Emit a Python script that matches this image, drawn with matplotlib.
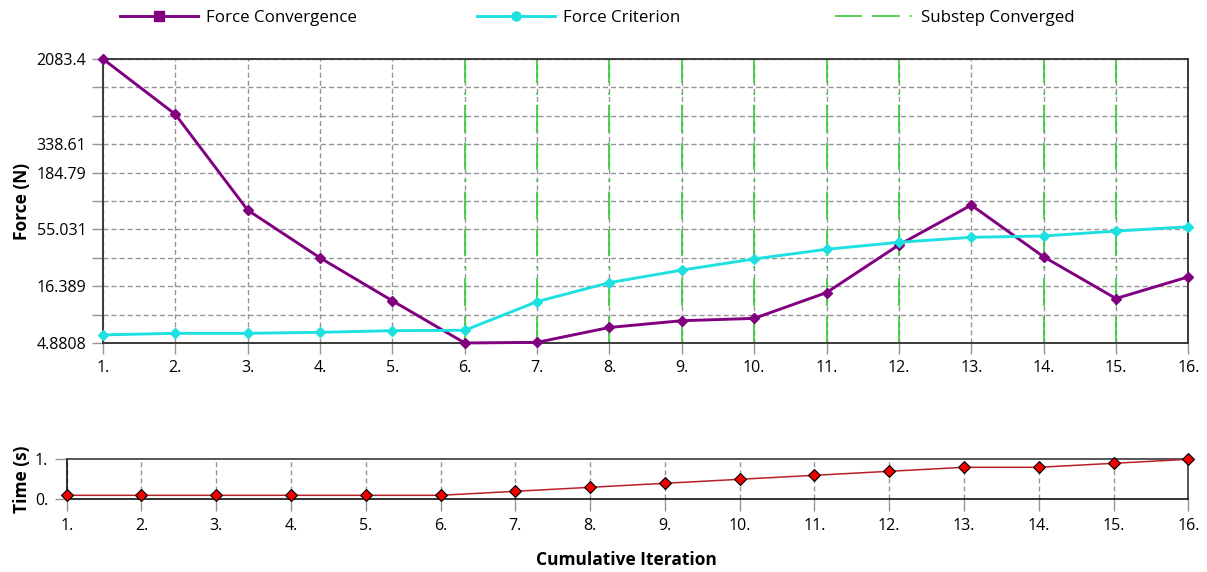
import matplotlib
matplotlib.use("Agg")
import matplotlib.pyplot as plt
from matplotlib.lines import Line2D
from matplotlib.ticker import FixedLocator, FixedFormatter
import numpy as np

# ---- data -------------------------------------------------------------
iterations = [1, 2, 3, 4, 5, 6, 7, 8, 9, 10, 11, 12, 13, 14, 15, 16]
force_convergence = [2083.4, 640.0, 83.0, 30.0, 12.0, 4.8808, 4.95, 6.8,
                     7.85, 8.25, 14.3, 39.5, 92.5, 30.7, 12.6, 20.0]
force_criterion = [5.8, 6.0, 6.0, 6.13, 6.35, 6.4, 11.8, 17.7,
                   23.1, 29.3, 36.0, 41.8, 46.5, 47.8, 53.1, 58.2]
substep_converged = [6, 7, 8, 9, 10, 11, 12, 14, 15]
time_values = [0.1, 0.1, 0.1, 0.1, 0.1, 0.1, 0.2, 0.3,
               0.4, 0.5, 0.6, 0.7, 0.8, 0.8, 0.9, 1.0]
force_tick_labels = ["4.8808", "16.389", "55.031", "184.79", "338.61", "2083.4"]
time_tick_labels = ["0.", "1."]
x_tick_labels = [f"{i}." for i in iterations]

# ---- style ------------------------------------------------------------
plt.rcParams["font.family"] = ["Open Sans", "DejaVu Sans"]
plt.rcParams["lines.scale_dashes"] = False
W, H = 1207, 572
FS = 11.5
FS_LEG = 12.2
FS_LAB = 12.5
PURPLE = "#800080"
CYAN = "#1fe0e0"
GREEN = "#33cc33"
GRID = "#959595"
SPINE = "#3a3a3a"
grid_dash = (0, (3.6, 2.2))
substep_dash = (0, (19.4, 7.2, 20.0, 7.2, 1.44, 7.2))

fig = plt.figure(figsize=(W / 100, H / 100), dpi=100)

def frac(left, top, right, bottom):
    return [left / W, 1 - bottom / H, (right - left) / W, (bottom - top) / H]

# ---- force plot -------------------------------------------------------
ax = fig.add_axes(frac(103, 59, 1188.3, 343))
ax.set_yscale("log")
y_lo = float(force_tick_labels[0])
y_hi = float(force_tick_labels[-1])
ax.set_ylim(y_lo, y_hi)
ax.set_xlim(iterations[0], iterations[-1])

grid_vals = np.geomspace(y_lo, y_hi, 11)
grid_labels = []
for v in grid_vals:
    lab = ""
    for t in force_tick_labels:
        if abs(np.log10(v) - np.log10(float(t))) < 0.01:
            lab = t
    grid_labels.append(lab)
ax.yaxis.set_major_locator(FixedLocator(grid_vals))
ax.yaxis.set_major_formatter(FixedFormatter(grid_labels))
ax.yaxis.set_minor_locator(FixedLocator([]))
ax.set_xticks(iterations)
ax.set_xticklabels(x_tick_labels)

ax.grid(True, color=GRID, linestyle=grid_dash, linewidth=1.0, zorder=0)
ax.set_axisbelow(True)
ax.tick_params(axis="both", direction="out", length=8, width=1.0,
               color=GRID, labelsize=FS)
ax.tick_params(axis="y", pad=4)
ax.tick_params(axis="x", pad=4)
for s in ax.spines.values():
    s.set_color(SPINE)
    s.set_linewidth(1.4)

for it in substep_converged:
    ax.axvline(it, color=GREEN, linewidth=1.2, linestyle=substep_dash, zorder=1.5)

ax.plot(iterations, force_convergence, color=PURPLE, linewidth=2.1,
        marker="D", markersize=5.5, zorder=3, clip_on=False)
ax.plot(iterations, force_criterion, color=CYAN, linewidth=2.1,
        marker="D", markersize=5.5, zorder=3.5, clip_on=False)

# ---- time plot --------------------------------------------------------
axt = fig.add_axes(frac(66.7, 459.3, 1188.3, 499.3))
axt.set_xlim(iterations[0], iterations[-1])
axt.set_ylim(0, 1)
axt.set_yticks([0, 1])
axt.set_yticklabels(time_tick_labels)
axt.set_xticks(iterations)
axt.set_xticklabels(x_tick_labels)
axt.grid(True, axis="x", color=GRID, linestyle=grid_dash, linewidth=1.0)
axt.set_axisbelow(True)
axt.tick_params(axis="both", direction="out", length=8.3, width=1.0,
                color=GRID, labelsize=FS)
axt.tick_params(axis="y", pad=5)
axt.tick_params(axis="x", pad=5)
for s in axt.spines.values():
    s.set_color(SPINE)
    s.set_linewidth(1.2)
axt.spines["left"].set_color("#111111")
axt.spines["bottom"].set_color("#111111")
axt.plot(iterations, time_values, color="#b8202a", linewidth=1.1,
         marker="D", markersize=6, markerfacecolor="#ee0000",
         markeredgecolor="black", markeredgewidth=0.8, zorder=3, clip_on=False)

# ---- labels -----------------------------------------------------------
fig.text(21.5 / W, 1 - 201 / H, "Force (N)", rotation=90, ha="center",
         va="center", fontsize=FS_LAB, fontweight="bold")
fig.text(21.5 / W, 1 - 479 / H, "Time (s)", rotation=90, ha="center",
         va="center", fontsize=FS_LAB, fontweight="bold")
fig.text(626 / W, 1 - 560 / H, "Cumulative Iteration", ha="center",
         va="center", fontsize=FS_LAB, fontweight="bold")

# ---- legend (three entries spread across the top) ---------------------
entries = [
    (Line2D([], [], color=PURPLE, linewidth=2.1, marker="s", markersize=6.5),
     "Force Convergence", 120),
    (Line2D([], [], color=CYAN, linewidth=2.1, marker="o", markersize=6.5),
     "Force Criterion", 477),
    (Line2D([], [], color=GREEN, linewidth=1.2, linestyle=substep_dash),
     "Substep Converged", 835),
]
for handle, label, x0 in entries:
    fig.legend(handles=[handle], labels=[label], loc="center left",
               bbox_to_anchor=(x0 / W, 1 - 18 / H), frameon=False,
               handlelength=4.6, handletextpad=0.5, borderpad=0,
               borderaxespad=0, fontsize=FS_LEG)

fig.savefig("out.png", dpi=100)
